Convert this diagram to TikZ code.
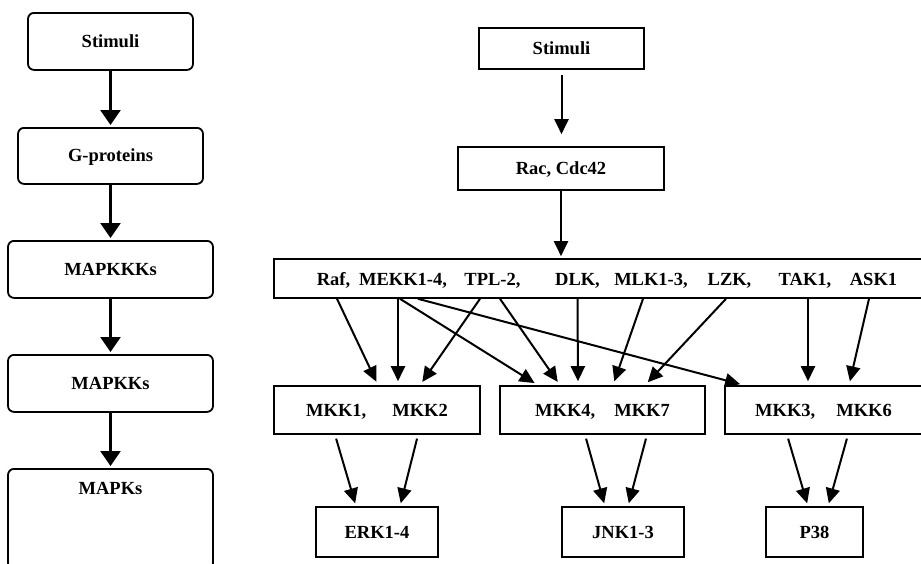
\documentclass[tikz,border=0pt]{standalone}
\usepackage{fontspec}
\setmainfont{Liberation Serif}
\usetikzlibrary{arrows.meta,calc}
\tikzset{
  >={Triangle[length=15pt,width=14pt]},
  lbox/.style = {draw, line width=1.8pt, rounded corners=6pt, anchor=north,
                 minimum width=#1, minimum height=57pt, inner ysep=14pt,
                 text height=12pt, text depth=0pt,
                 font=\fontsize{18.5}{20}\selectfont\bfseries},
  rbox/.style = {draw, line width=1.6pt, inner sep=0pt,
                 text height=12pt, text depth=0pt,
                 font=\fontsize{18.5}{20}\selectfont\bfseries},
  kin/.style = {inner sep=0pt, text height=12pt, text depth=0pt,
                font=\fontsize{18.5}{20}\selectfont\bfseries},
  larr/.style = {line width=2.6pt, -{Triangle[length=15pt,width=20pt]},
                 shorten >=2pt},
  arr/.style = {line width=2pt, ->, shorten >=4pt},
}
\begin{document}
\begin{tikzpicture}[x=1pt,y=-1pt]
\useasboundingbox (0,0) rectangle (921,563);
% left column
\node[lbox=165pt] (stl) at (110.5,12) {Stimuli};
\node[lbox=185pt, minimum height=56pt] (gpr) at (110.5,127) {G-proteins};
\node[lbox=205pt] (mkkkl) at (110.5,240) {MAPKKKs};
\node[lbox=205pt] (mkkl) at (110.5,354) {MAPKKs};
\node[lbox=205pt, text depth=60pt] (mkl) at (110.5,468) {MAPKs};
\foreach \a/\b in {stl/gpr, gpr/mkkkl, mkkkl/mkkl, mkkl/mkl}
  \draw[larr] (\a) -- (\b);
% right column
\node[rbox, minimum width=165pt, minimum height=41pt] (str) at (561.5,48.5) {Stimuli};
\node[rbox, minimum width=206pt, minimum height=43pt] (rac) at (561,168.5) {Rac, Cdc42};
\node[rbox, minimum width=648pt, minimum height=39pt] (top) at (598,278.5) {};
\node[kin] (raf) at (333.5,279) {Raf,};
\node[kin] (mekk) at (403,279) {MEKK1-4,};
\node[kin] (tpl) at (492.5,279) {TPL-2,};
\node[kin] (dlk) at (577.5,279) {DLK,};
\node[kin] (mlk) at (651,279) {MLK1-3,};
\node[kin] (lzk) at (729.5,279) {LZK,};
\node[kin] (tak) at (805,279) {TAK1,};
\node[kin] (ask) at (873.5,279) {ASK1};
\node[rbox, minimum width=206pt, minimum height=48pt] (mkka) at (377,410) {MKK1,\hspace{26pt}MKK2};
\node[rbox, minimum width=205pt, minimum height=48pt] (mkkb) at (602.5,410) {MKK4,\hspace{19pt}MKK7};
\node[rbox, minimum width=197pt, minimum height=48pt] (mkkc) at (823.5,410) {MKK3,\hspace{21pt}MKK6};
\node[rbox, minimum width=122pt, minimum height=50pt] (erk) at (377,532) {ERK1-4};
\node[rbox, minimum width=122pt, minimum height=50pt] (jnk) at (623,532) {JNK1-3};
\node[rbox, minimum width=97pt, minimum height=50pt] (p38) at (814.5,532) {P38};
\draw[arr, shorten <=5pt, shorten >=12pt] (str) -- (str |- rac.north);
\draw[arr, shorten >=2pt] (rac) -- (rac |- top.north);
\foreach \s/\dx/\t/\tx in {raf/3.5/mkka/1, mekk/-5/mkka/21, tpl/-12.5/mkka/43,
    mekk/-3/mkkb/-64.5, tpl/7.5/mkkb/-42.5, dlk/0/mkkb/-24.5, mlk/-8/mkkb/10.5,
    lzk/-3.5/mkkb/42.5, mekk/15/mkkc/-79.5, tak/3/mkkc/-15.5, ask/-4.5/mkkc/25.5}
  \draw[arr] ($(\s |- top.south)+(\dx,0)$) -- ([xshift=\tx pt]\t.north);
\foreach \s/\dx/\t/\tx in {mkka/-42/erk/-21, mkka/41/erk/23, mkkb/-17.5/jnk/-18,
    mkkb/44.5/jnk/5, mkkc/-36.5/p38/-6.5, mkkc/24.5/p38/13.5}
  \draw[arr, shorten <=4pt, shorten >=3pt] ([xshift=\dx pt]\s.south) -- ([xshift=\tx pt]\t.north);
\end{tikzpicture}
\end{document}
